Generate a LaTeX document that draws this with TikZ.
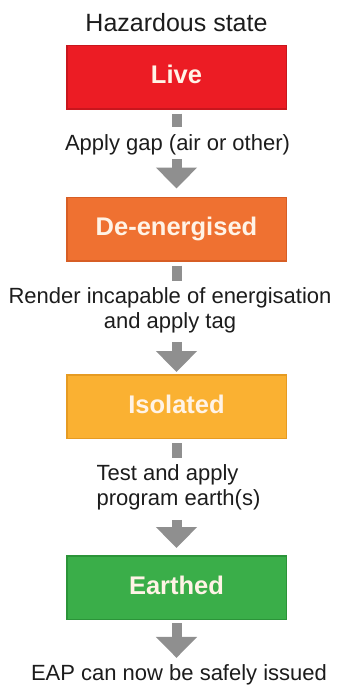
\documentclass[tikz,border=0pt]{standalone}
\usepackage{fontspec}
\setmainfont{Liberation Sans}
\usepackage{tikz}
\usetikzlibrary{positioning}
\usetikzlibrary{arrows.meta}
\usepackage{xcolor}
\definecolor{liveRed}{HTML}{EC1C24}
\definecolor{liveEdge}{HTML}{C8161D}
\definecolor{deenOrange}{HTML}{EF7131}
\definecolor{deenEdge}{HTML}{D75E25}
\definecolor{isolYellow}{HTML}{FAB132}
\definecolor{isolEdge}{HTML}{E69B22}
\definecolor{earthGreen}{HTML}{3AAE49}
\definecolor{earthEdge}{HTML}{2B9439}
\definecolor{boxText}{HTML}{FFF3E6}
\definecolor{arrowGray}{HTML}{8F8F8F}
\definecolor{labelText}{HTML}{1C1C1C}
\newcommand{\labelfont}{\fontsize{22}{25}\selectfont}
\newcommand{\statefont}{\fontsize{25.5}{30}\selectfont\bfseries}

\tikzset{
  statebox/.style={draw, line width=1.5pt, minimum width=219.5pt, minimum height=63.5pt,
    inner sep=0pt, text height=18.5pt, text depth=5pt, text=boxText, font=\statefont},
  steplabel/.style={inner sep=0pt, text=labelText, font=\labelfont},
  stub/.style={draw=arrowGray, line width=10pt, shorten <=4pt, shorten >=7pt},
  blockarrow/.style={draw=arrowGray, line width=10pt, -{Triangle[width=40pt,length=21pt]}},
}

\begin{document}
\begin{tikzpicture}[x=1pt,y=-1pt]
  \useasboundingbox (0,0) rectangle (339,688);
  \node[steplabel,anchor=base,font=\fontsize{25}{30}\selectfont] (title) at (176.5,31.5) {Hazardous state};
  % the four states
  \node[statebox,fill=liveRed,draw=liveEdge] (live) at (176.5,77) {Live};
  \node[statebox,fill=deenOrange,draw=deenEdge] (deen) at (176.5,229) {De-energised};
  \node[statebox,fill=isolYellow,draw=isolEdge] (isol) at (176.5,406.5) {Isolated};
  \node[statebox,fill=earthGreen,draw=earthEdge] (earth) at (176.5,587.5) {Earthed};
  % what is done between them
  \node[steplabel,anchor=base] (gapTxt) at (177.5,150) {Apply gap (air or other)};
  \node[steplabel,align=center] (renderTxt) at (170,310.8) {Render incapable of energisation\\and apply tag};
  \node[steplabel,align=left] (testTxt) at (178.5,487.8) {Test and apply\\program earth(s)};
  \node[steplabel,anchor=base] (eapTxt) at (179,680) {EAP can now be safely issued};
  % stubs under the boxes
  \draw[stub] (live.south) -- (live.south |- gapTxt.north);
  \draw[stub] (deen.south) -- (deen.south |- renderTxt.north);
  \draw[stub] (isol.south) -- (isol.south |- testTxt.north);
  % block arrows down to the next state
  \draw[blockarrow,shorten <=4.5pt,shorten >=8pt] (deen.north |- gapTxt.south) -- (deen.north);
  \draw[blockarrow,shorten <=8pt,shorten >=2pt] (isol.north |- renderTxt.south) -- (isol.north);
  \draw[blockarrow,shorten <=9pt,shorten >=7pt] (earth.north |- testTxt.south) -- (earth.north);
  \draw[blockarrow,shorten <=3pt,shorten >=6pt] (earth.south) -- (earth.south |- eapTxt.north);
\end{tikzpicture}
\end{document}
